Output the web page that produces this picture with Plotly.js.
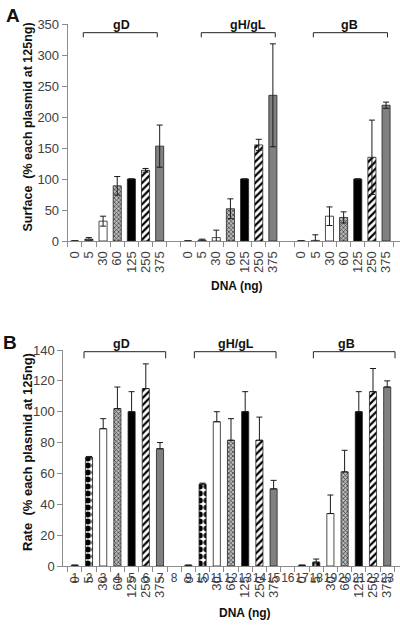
<!DOCTYPE html>
<html>
<head>
<meta charset="utf-8">
<script src="https://cdn.plot.ly/plotly-3.0.1.min.js"></script>
<style>html,body{margin:0;padding:0;background:#fff;}#chart{width:400px;height:625px;}</style>
</head>
<body>
<div id="chart"></div>
<script>
// ---- data ----
const doses = ['0', '5', '30', '60', '125', '250', '375'];
const groups = ['gD', 'gH/gL', 'gB'];
const groupStart = [1, 9, 17];           // category index of the first bar of each group
const positionLabels = ['1','2','3','4','5','6','7','8','9','10','11','12','13','14','15','16','17','18','19','20','21','22','23'];

const surface_gD   = [0, 3, 32, 89, 100, 114, 153];
const surface_gHgL = [0, 1.5, 5.5, 52, 100, 155, 235];
const surface_gB   = [0, 1, 40, 38, 100, 135, 219];
const surfaceErr_gD   = [0, 2.5, 8, 15, 0, 3, 34];
const surfaceErr_gHgL = [0, 1.5, 12, 16, 0, 9, 83];
const surfaceErr_gB   = [0, 9, 15, 9, 0, 60, 5];

const rate_gD   = [0.5, 70.5, 89, 102, 100, 115, 76];
const rate_gHgL = [0.5, 53, 93.5, 81.5, 100, 81.5, 50];
const rate_gB   = [0.5, 2.5, 34, 61, 100, 113, 116];
const rateErr_gD   = [0, 0.5, 6.5, 14, 13, 16, 4];
const rateErr_gHgL = [0, 0.7, 6.5, 14, 13, 15, 5.5];
const rateErr_gB   = [0, 2, 12, 14, 13, 15, 4];

// ---- styles ----
const FONT = 'Liberation Sans, Arial, sans-serif';
const AX = '#8c8c8c';
const TICK = '#404040';
const doseStyle = [
  {color: '#ffffff'},
  {color: '#ffffff', pattern: {shape: '.', fgcolor: '#000', bgcolor: '#fff', size: 7, solidity: 0.6}},
  {color: '#ffffff'},
  {color: '#999999', pattern: {shape: 'x', fgcolor: '#333', bgcolor: '#bbb', size: 3, solidity: 0.4}},
  {color: '#000000'},
  {color: '#ffffff', pattern: {shape: '/', fgcolor: '#000', bgcolor: '#fff', size: 5, solidity: 0.45}},
  {color: '#808080'}
];

const traces = [];
function addPanel(vals, errs, xa, ya, width, symmetric) {
  doses.forEach((d, i) => {
    const st = doseStyle[i];
    const marker = {color: st.color, line: {color: '#222', width: 0.8}};
    if (st.pattern) marker.pattern = st.pattern;
    const eb = {type: 'data', array: errs.map(e => e[i]), color: '#1a1a1a', thickness: 1, width: 3, visible: true};
    if (!symmetric) { eb.symmetric = false; eb.arrayminus = errs.map(() => 0); }
    traces.push({
      type: 'bar', xaxis: xa, yaxis: ya,
      x: groupStart.map(g => g + i),
      y: vals.map(v => v[i]),
      width: width,
      marker: marker,
      error_y: eb,
      name: d, hoverinfo: 'x+y'
    });
  });
}
addPanel([surface_gD, surface_gHgL, surface_gB], [surfaceErr_gD, surfaceErr_gHgL, surfaceErr_gB], 'x', 'y', 0.57, true);
addPanel([rate_gD, rate_gHgL, rate_gB], [rateErr_gD, rateErr_gHgL, rateErr_gB], 'x2', 'y2', 0.5, false);
// invisible trace to anchor the overlay axis with position numbers
traces.push({type: 'scatter', mode: 'markers', xaxis: 'x3', yaxis: 'y2', x: [1], y: [0], marker: {opacity: 0}, hoverinfo: 'skip'});

const tickPos = [];
const tickText = [];
groupStart.forEach(g => doses.forEach((d, i) => { tickPos.push(g + i); tickText.push(d); }));
const boundaries = [];
for (let b = 0.5; b <= 24; b += 1) boundaries.push(b);
const numPos = positionLabels.map((s, i) => i + 1);

function xAxis(domain, range, anchor) {
  return {
    domain: domain, range: range, anchor: anchor,
    tickmode: 'array', tickvals: tickPos, ticktext: tickText, tickangle: -90,
    ticks: '', ticklabelstandoff: 4,
    minor: {tickmode: 'array', tickvals: boundaries, ticks: 'outside', ticklen: 5, tickcolor: AX, tickwidth: 1},
    showline: true, linecolor: AX, linewidth: 1, showgrid: false, zeroline: false,
    tickfont: {family: FONT, size: 13, color: TICK}
  };
}
function yAxis(domain, range, dtick, anchor) {
  return {
    domain: domain, range: range, anchor: anchor, dtick: dtick, tick0: 0,
    ticks: 'outside', ticklen: 5, tickcolor: AX, tickwidth: 1,
    showline: true, linecolor: AX, linewidth: 1, showgrid: false, zeroline: false,
    tickfont: {family: FONT, size: 13, color: TICK}
  };
}

// bracket decoration (group extents in category units, heights in value units, label heights in page pixels)
const bracketsA = {x0: [1.6, 9.94, 17.86], x1: [6.83, 15.17, 23.1], label: [4.32, 13.24, 20.45], top: 336, foot: 328.5, textPx: 25};
const bracketsB = {x0: [1.65, 9.42, 17.8], x1: [7.4, 15.17, 23.55], label: [4.3, 12.35, 20.15], top: 138.9, foot: 134.6, textPx: 343.5};

const shapes = [];
const annotations = [];
function addBrackets(b, xr, yr) {
  groups.forEach((name, k) => {
    shapes.push({type: 'path', xref: xr, yref: yr,
      path: `M ${b.x0[k]},${b.foot} L ${b.x0[k]},${b.top} L ${b.x1[k]},${b.top} L ${b.x1[k]},${b.foot}`,
      line: {color: '#222', width: 1}});
    annotations.push({xref: xr, yref: 'paper', x: b.label[k], y: 1 - b.textPx / 625, text: '<b>' + name + '</b>', showarrow: false,
      font: {family: FONT, size: 12.5, color: '#111'}, xanchor: 'center', yanchor: 'middle'});
  });
}
addBrackets(bracketsA, 'x', 'y');
addBrackets(bracketsB, 'x2', 'y2');

function paperText(txt, px, py, size, angle) {
  annotations.push({xref: 'paper', yref: 'paper', x: px / 400, y: 1 - py / 625, text: txt, showarrow: false,
    textangle: angle || 0, xanchor: 'center', yanchor: 'middle', font: {family: FONT, size: size, color: '#111'}});
}
paperText('<b>A</b>', 13, 15, 19);
paperText('<b>B</b>', 10, 342, 19);
paperText('<b>Surface  (% each plasmid at 125ng)</b>', 28, 127.5, 12.5, -90);
paperText('<b>Rate  (% each plasmid at 125ng)</b>', 28, 452, 13, -90);
paperText('<b>DNA (ng)</b>', 237, 286, 12);
paperText('<b>DNA (ng)</b>', 245, 613, 12);

const layout = {
  width: 400, height: 625, margin: {l: 0, r: 0, t: 0, b: 0},
  paper_bgcolor: '#fff', plot_bgcolor: 'rgba(0,0,0,0)',
  showlegend: false, barmode: 'overlay',
  xaxis: xAxis([67.7 / 400, 1], [0.5, 0.5 + (400 - 67.7) / 14.15], 'y'),
  yaxis: yAxis([1 - 241 / 625, 1 - 24 / 625], [0, 350], 50, 'x'),
  xaxis2: xAxis([63.3 / 400, 1], [0.19, 0.19 + (400 - 63.3) / 14.2], 'y2'),
  yaxis2: yAxis([1 - 566 / 625, 1 - 350 / 625], [0, 140], 20, 'x2'),
  xaxis3: {overlaying: 'x2', anchor: 'y2', side: 'bottom', range: [0.19, 0.19 + (400 - 63.3) / 14.2],
    tickmode: 'array', tickvals: numPos, ticktext: positionLabels, tickangle: 0,
    ticks: '', ticklabelstandoff: 3, showline: false, showgrid: false, zeroline: false,
    tickfont: {family: FONT, size: 12, color: TICK}},
  shapes: shapes, annotations: annotations
};

Plotly.newPlot('chart', traces, layout, {displayModeBar: false, staticPlot: true});
</script>
</body>
</html>
